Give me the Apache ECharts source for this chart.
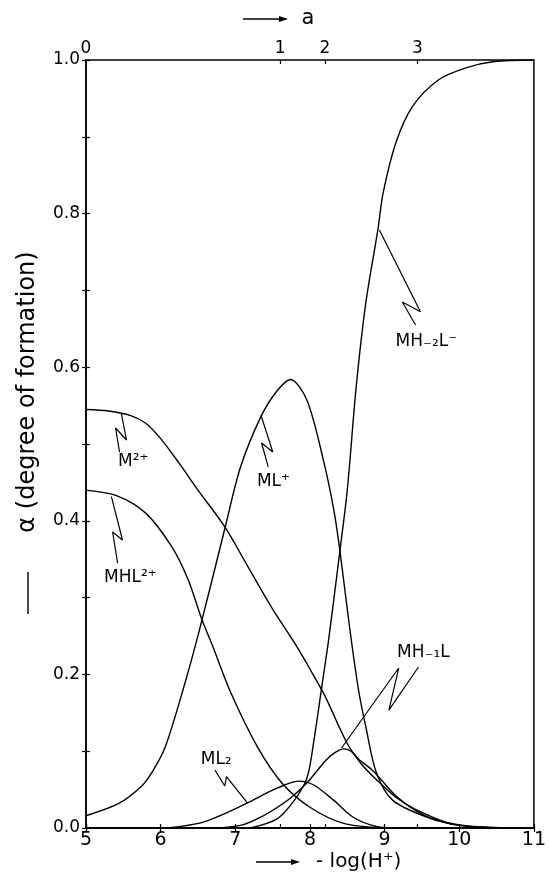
<!DOCTYPE html>
<html><head><meta charset="utf-8">
<script src="https://cdn.jsdelivr.net/npm/echarts@6/dist/echarts.min.js"></script>
<style>html,body{margin:0;padding:0;background:#fff}#c{width:549px;height:879px}</style>
</head><body><div id="c"></div>
<script>
// -log(H+) axis range and the "a" tick labels (top axis)
const xMin = 5, xMax = 11;
const aTickLabels = ['0', '1', '2', '3'];
const aTickPositions = [5.0, 7.6, 8.2, 9.44];

// species curves: [ -log(H+), alpha ]
const M2 = [[5.0,0.545],[5.3,0.543],[5.6,0.537],[5.8,0.527],[6.0,0.507],[6.24,0.476],[6.5,0.44],[6.86,0.392],[7.2,0.335],[7.5,0.285],[7.8,0.24],[8.0,0.207],[8.2,0.172],[8.5,0.11],[8.7,0.082],[8.9,0.062],[9.15,0.04],[9.4,0.025],[9.9,0.005],[10.3,0.001],[10.6,0]];
const MHL2 = [[5.0,0.44],[5.4,0.433],[5.8,0.41],[6.15,0.366],[6.37,0.323],[6.55,0.272],[6.7,0.236],[6.94,0.176],[7.3,0.105],[7.63,0.058],[8.0,0.027],[8.45,0.006],[9.0,0.0]];
const ML = [[5.0,0.016],[5.44,0.032],[5.75,0.055],[5.9,0.075],[6.06,0.105],[6.3,0.18],[6.51,0.254],[6.86,0.39],[7.07,0.47],[7.34,0.535],[7.55,0.568],[7.74,0.584],[7.96,0.557],[8.18,0.479],[8.32,0.414],[8.4,0.362],[8.53,0.262],[8.65,0.18],[8.75,0.131],[8.89,0.072],[9.11,0.036],[9.6,0.013],[10.0,0.004],[10.4,0.001],[10.8,0]];
const MH2L = [[7.2,0],[7.56,0.012],[7.79,0.036],[7.96,0.065],[8.05,0.112],[8.16,0.185],[8.25,0.245],[8.4,0.36],[8.5,0.44],[8.62,0.575],[8.75,0.685],[8.91,0.779],[8.98,0.827],[9.15,0.892],[9.37,0.939],[9.72,0.974],[10.1,0.99],[10.47,0.998],[11.0,1.0]];
const MH1L = [[6.8,0],[7.1,0.004],[7.34,0.014],[7.55,0.026],[7.74,0.039],[7.96,0.059],[8.1,0.075],[8.22,0.089],[8.35,0.099],[8.45,0.103],[8.55,0.1],[8.66,0.089],[8.85,0.074],[9.15,0.042],[9.5,0.018],[9.9,0.005],[10.4,0]];
const ML2 = [[6.1,0],[6.55,0.007],[6.89,0.02],[7.17,0.033],[7.45,0.047],[7.66,0.056],[7.85,0.061],[8.05,0.056],[8.32,0.036],[8.58,0.014],[8.89,0.002],[9.2,0]];

// curve labels and their zig-zag pointers (data coordinates)
const labelNames = ['M²⁺', 'MHL²⁺', 'ML⁺', 'MH₋₂L⁻', 'MH₋₁L', 'ML₂'];
const labelPos = [[5.634,0.477],[5.595,0.3255],[7.511,0.4505],[9.559,0.633],[9.52,0.228],[6.744,0.0885]];
const pointers = [
  [[5.472,0.5404],[5.542,0.5052],[5.396,0.5208],[5.449,0.4896]],
  [[5.340,0.4314],[5.489,0.375],[5.357,0.3854],[5.423,0.345]],
  [[7.343,0.5378],[7.502,0.4896],[7.352,0.5013],[7.441,0.4701]],
  [[8.93,0.7786],[9.480,0.6723],[9.238,0.6849],[9.414,0.6549]],
  [[8.423,0.1042],[9.189,0.2083],[9.057,0.1536],[9.454,0.2096]],
  [[7.167,0.0322],[6.881,0.0668],[6.859,0.0547],[6.727,0.0755]]
];

const FONT = 'DejaVu Sans';
const chart = echarts.init(document.getElementById('c'), null, {renderer: 'canvas'});

const curveSeries = [M2, MHL2, ML, MH2L, MH1L, ML2].map(d => ({
  type: 'line', data: d, xAxisIndex: 0, yAxisIndex: 0,
  smooth: 0.3, showSymbol: false, symbol: 'none',
  lineStyle: {color: '#000', width: 1.4}, silent: true, z: 3
}));
const pointerSeries = pointers.map(p => ({
  type: 'line', data: p, xAxisIndex: 0, yAxisIndex: 0, showSymbol: false, symbol: 'none',
  lineStyle: {color: '#000', width: 1.2}, silent: true, z: 3
}));
const labelSeries = {
  type: 'scatter', xAxisIndex: 0, yAxisIndex: 0, symbolSize: 0, silent: true,
  itemStyle: {opacity: 1},
  data: labelPos.map((p, i) => [p[0], p[1], labelNames[i]]),
  label: {show: true, position: 'inside', formatter: q => q.data[2], opacity: 1,
    color: '#000', fontFamily: FONT, fontSize: 17, textBorderWidth: 0}
};

const axisBase = {
  type: 'value', min: xMin, max: xMax,
  axisLine: {show: true, lineStyle: {color: '#000', width: 1.5}},
  splitLine: {show: false}
};

chart.setOption({
  animation: false,
  backgroundColor: '#fff',
  grid: {left: 86, right: 9, top: 60, bottom: 51, show: true, borderColor: '#000', borderWidth: 1.5, backgroundColor: 'transparent'},
  xAxis: [
    Object.assign({}, axisBase, {position: 'bottom', interval: 1,
      axisTick: {show: true, inside: false, length: 4, lineStyle: {color: '#000', width: 1.2}},
      axisLabel: {color: '#000', fontFamily: FONT, fontSize: 19, margin: 3, showMinLabel: true, showMaxLabel: true}}),
    Object.assign({}, axisBase, {position: 'top',
      axisTick: {show: true, inside: false, length: 4, customValues: aTickPositions, lineStyle: {color: '#000', width: 1.2}},
      axisLabel: {color: '#000', fontFamily: FONT, fontSize: 17, margin: 3, customValues: aTickPositions,
        formatter: v => { const i = aTickPositions.findIndex(t => Math.abs(t - v) < 1e-6); return i >= 0 ? aTickLabels[i] : ''; }}}),
    Object.assign({}, axisBase, {position: 'bottom', interval: 1, axisLine: {show: false},
      axisTick: {show: true, inside: true, length: 4, lineStyle: {color: '#000', width: 1.2}}, axisLabel: {show: false}}),
    Object.assign({}, axisBase, {position: 'top', axisLine: {show: false},
      axisTick: {show: true, inside: true, length: 4, customValues: aTickPositions, lineStyle: {color: '#000', width: 1.2}},
      axisLabel: {show: false}})
  ],
  yAxis: [
    {type: 'value', position: 'left', min: 0, max: 1, interval: 0.1,
      axisLine: {show: true, lineStyle: {color: '#000', width: 1.5}},
      axisTick: {show: true, inside: false, length: 4, lineStyle: {color: '#000', width: 1.2}},
      splitLine: {show: false},
      axisLabel: {color: '#000', fontFamily: FONT, fontSize: 17, margin: 6,
        formatter: v => (Math.round(v * 10) % 2 === 0 ? v.toFixed(1) : '')}},
    {type: 'value', position: 'left', min: 0, max: 1, interval: 0.1,
      axisLine: {show: false},
      axisTick: {show: true, inside: true, length: 4, lineStyle: {color: '#000', width: 1.2}},
      splitLine: {show: false}, axisLabel: {show: false}}
  ],
  graphic: [
    // top title: arrow + a
    {type: 'line', shape: {x1: 243, y1: 19, x2: 286, y2: 19}, style: {stroke: '#000', lineWidth: 1.3}},
    {type: 'polygon', shape: {points: [[288, 19], [279, 16], [279, 22]]}, style: {fill: '#000'}},
    {type: 'text', x: 308, y: 19, style: {text: 'a', font: '21px "DejaVu Sans"', fill: '#000', align: 'center', verticalAlign: 'middle'}},
    // bottom title
    {type: 'line', shape: {x1: 256, y1: 862, x2: 298, y2: 862}, style: {stroke: '#000', lineWidth: 1.3}},
    {type: 'polygon', shape: {points: [[300, 862], [291, 859], [291, 865]]}, style: {fill: '#000'}},
    {type: 'text', x: 316, y: 862, style: {text: '- log(H⁺)', font: '20px "DejaVu Sans"', fill: '#000', align: 'left', verticalAlign: 'middle'}},
    // left title
    {type: 'line', shape: {x1: 28, y1: 614, x2: 28, y2: 572}, style: {stroke: '#000', lineWidth: 1.4}},
    {type: 'text', x: 28, y: 392, rotation: Math.PI / 2, style: {text: 'α (degree of formation)', font: '24px "DejaVu Sans"', fill: '#000', align: 'center', verticalAlign: 'middle'}}
  ],
  series: curveSeries.concat(pointerSeries, [labelSeries])
});
</script></body></html>
